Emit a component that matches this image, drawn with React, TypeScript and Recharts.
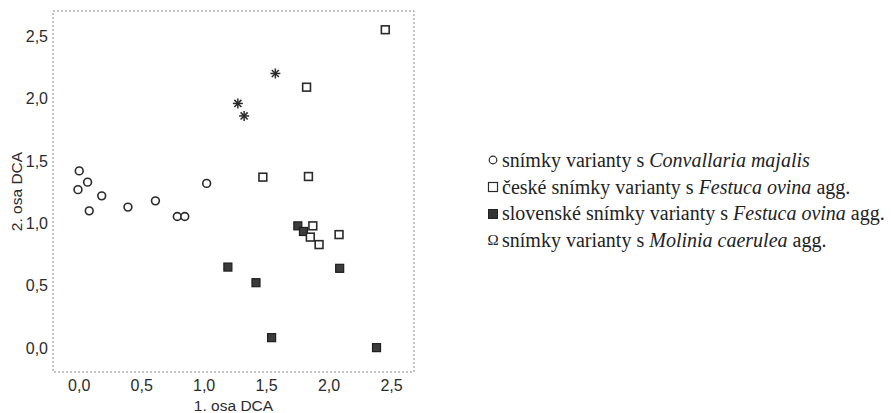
import React from 'react';
import { ScatterChart, Scatter, XAxis, YAxis, ReferenceArea } from 'recharts';

// 1. osa DCA / 2. osa DCA scores per group
const convallariaX = [0.0, 0.067, -0.01, 0.18, 0.08, 0.39, 0.61, 0.785, 0.845, 1.02];
const convallariaY = [1.42, 1.33, 1.27, 1.22, 1.1, 1.13, 1.18, 1.055, 1.055, 1.32];

const festucaCzX = [2.45, 1.82, 1.47, 1.835, 1.87, 1.85, 1.92, 2.08];
const festucaCzY = [2.55, 2.09, 1.37, 1.375, 0.98, 0.89, 0.83, 0.91];

const festucaSkX = [1.75, 1.795, 1.19, 1.415, 2.085, 1.54, 2.38];
const festucaSkY = [0.98, 0.935, 0.65, 0.525, 0.64, 0.085, 0.005];

const moliniaX = [1.27, 1.32, 1.57];
const moliniaY = [1.96, 1.86, 2.2];

const axisTicks = [0, 0.5, 1, 1.5, 2, 2.5];
const xDomain = [-0.21, 2.68];
const yDomain = [-0.19, 2.7];

const toPoints = (xs: number[], ys: number[]) => xs.map((x, i) => ({ x, y: ys[i] }));
const fmt = (v: number) => v.toFixed(1).replace('.', ',');

const INK = '#2a2a2a';

const OpenCircle = (p: any) => (
  <circle cx={p.cx} cy={p.cy} r={3.9} fill="#fff" stroke={INK} strokeWidth={1.6} />
);
const OpenSquare = (p: any) => (
  <rect x={p.cx - 3.9} y={p.cy - 3.9} width={7.8} height={7.8} fill="#fff" stroke={INK} strokeWidth={1.6} />
);
const FilledSquare = (p: any) => (
  <rect x={p.cx - 4} y={p.cy - 4} width={8} height={8} fill="#3c3c3c" stroke="#1e1e1e" strokeWidth={1.2} />
);
const Asterisk = (p: any) => {
  const r = 5;
  const d = r * 0.7071;
  return (
    <g stroke={INK} strokeWidth={1.5}>
      <line x1={p.cx} y1={p.cy - r} x2={p.cx} y2={p.cy + r} />
      <line x1={p.cx - r} y1={p.cy} x2={p.cx + r} y2={p.cy} />
      <line x1={p.cx - d} y1={p.cy - d} x2={p.cx + d} y2={p.cy + d} />
      <line x1={p.cx - d} y1={p.cy + d} x2={p.cx + d} y2={p.cy - d} />
    </g>
  );
};

const tickStyle = { fill: '#2b2b2b', fontSize: 16, fontFamily: '"Liberation Sans", Arial, sans-serif' };
const titleStyle = { fill: '#2b2b2b', fontSize: 15.5, fontFamily: '"Liberation Sans", Arial, sans-serif' };

const legendRows = [
  { icon: 'circle', plain: 'snímky varianty s ', italic: 'Convallaria majalis', tail: '' },
  { icon: 'square', plain: 'české snímky varianty s ', italic: 'Festuca ovina', tail: ' agg.' },
  { icon: 'filled', plain: 'slovenské snímky varianty s ', italic: 'Festuca ovina', tail: ' agg.' },
  { icon: 'omega', plain: 'snímky varianty s ', italic: 'Molinia caerulea', tail: ' agg.' },
];

const LegendIcon = ({ kind }: { kind: string }) => {
  if (kind === 'omega') return <span style={{ fontSize: 15 }}>Ω</span>;
  return (
    <svg width={12} height={12} style={{ display: 'block' }}>
      {kind === 'circle' && <circle cx={6} cy={6} r={3.8} fill="none" stroke={INK} strokeWidth={1.2} />}
      {kind === 'square' && <rect x={1.5} y={1.5} width={9} height={9} fill="none" stroke={INK} strokeWidth={1.2} />}
      {kind === 'filled' && <rect x={1.5} y={1.5} width={9} height={9} fill="#333" stroke="#222" strokeWidth={1} />}
    </svg>
  );
};

export default function App() {
  return (
    <div style={{ position: 'absolute', left: 0, top: 0, width: 891, height: 413, background: '#fff' }}>
      <ScatterChart width={420} height={413} margin={{ top: 11, right: 6, bottom: 0, left: 0 }}>
        <XAxis
          type="number"
          dataKey="x"
          domain={xDomain}
          ticks={axisTicks}
          tickFormatter={fmt}
          allowDataOverflow
          height={41}
          axisLine={false}
          tickLine={false}
          tickSize={0}
          tickMargin={8}
          tick={tickStyle}
          label={{ value: '1. osa DCA', position: 'insideBottom', offset: 2, style: titleStyle }}
        />
        <YAxis
          type="number"
          dataKey="y"
          domain={yDomain}
          ticks={axisTicks}
          tickFormatter={fmt}
          allowDataOverflow
          width={53}
          axisLine={false}
          tickLine={false}
          tickSize={0}
          tickMargin={5}
          tick={tickStyle}
          label={{ value: '2. osa DCA', angle: -90, position: 'insideLeft', offset: 16, style: { ...titleStyle, textAnchor: 'middle' } }}
        />
        <ReferenceArea
          x1={xDomain[0]}
          x2={xDomain[1]}
          y1={yDomain[0]}
          y2={yDomain[1]}
          fill="none"
          stroke="#8a8a8a"
          strokeDasharray="2 2"
          ifOverflow="visible"
        />
        <Scatter data={toPoints(convallariaX, convallariaY)} shape={OpenCircle} isAnimationActive={false} />
        <Scatter data={toPoints(festucaSkX, festucaSkY)} shape={FilledSquare} isAnimationActive={false} />
        <Scatter data={toPoints(festucaCzX, festucaCzY)} shape={OpenSquare} isAnimationActive={false} />
        <Scatter data={toPoints(moliniaX, moliniaY)} shape={Asterisk} isAnimationActive={false} />
      </ScatterChart>

      <div
        style={{
          position: 'absolute',
          left: 484,
          top: 147,
          fontFamily: '"Liberation Serif", "Times New Roman", serif',
          fontSize: 20,
          lineHeight: '26.7px',
          color: '#222',
          whiteSpace: 'nowrap',
        }}
      >
        {legendRows.map((r) => (
          <div key={r.plain + r.italic + r.icon} style={{ display: 'flex', alignItems: 'center' }}>
            <span style={{ width: 18, display: 'inline-flex', justifyContent: 'center', alignItems: 'center' }}>
              <LegendIcon kind={r.icon} />
            </span>
            <span>
              {r.plain}
              <i>{r.italic}</i>
              {r.tail}
            </span>
          </div>
        ))}
      </div>
    </div>
  );
}
